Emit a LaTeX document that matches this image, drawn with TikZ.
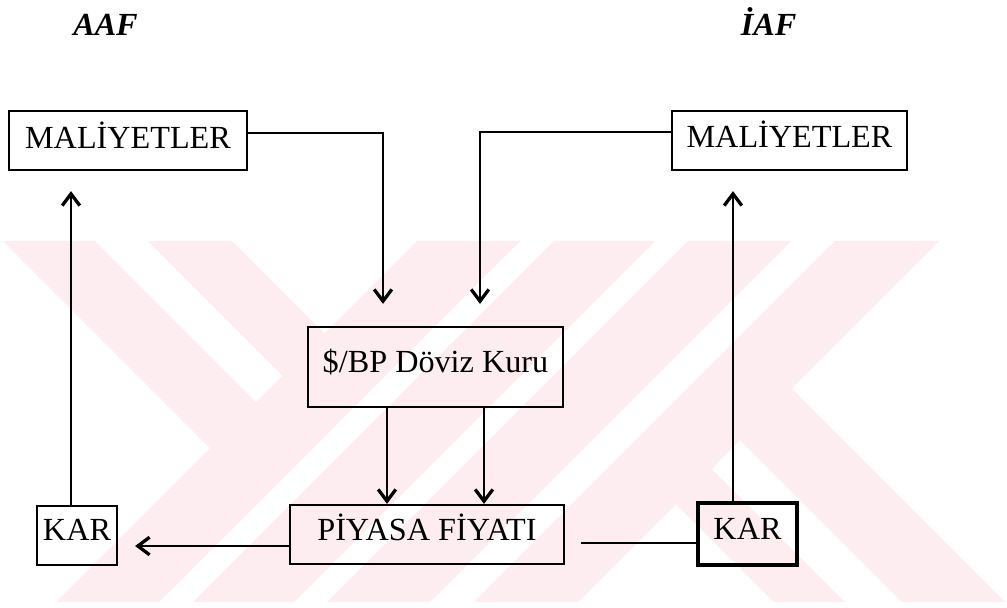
\documentclass[tikz,border=0pt]{standalone}
\usepackage{fontspec}
\setmainfont{Liberation Serif}
\usetikzlibrary{positioning}
\usetikzlibrary{calc}
\usetikzlibrary{arrows.meta}
\definecolor{wmpink}{RGB}{253,236,240}

\begin{document}
\begin{tikzpicture}[
    x=0.03cm, y=-0.03cm,
    box/.style={draw, line width=1.9pt, inner sep=0pt, font=\fontsize{27.5}{30}\selectfont},
    head/.style={inner sep=0pt, anchor=base, font=\fontsize{27.5}{30}\selectfont\bfseries\itshape},
    link/.style={line width=2pt},
    arr/.style={link, -{Straight Barb[length=10pt,width=15pt,line width=2.8pt]}},
    wm/.style={fill=wmpink}
]
    \useasboundingbox (0,0) rectangle (1007,607);

    % Watermark (drawn first, behind everything)
    \fill[wm] (3,241) -- (95,241) -- (281.75,427.75) -- (235.75,473.75) -- cycle;
    \fill[wm] (148,241) -- (232,241) -- (350.25,359.25) -- (308.25,401.25) -- cycle;
    \foreach \a/\b in {417/520, 554/655, 688/791, 835/939}
        \fill[wm] (\a,241) -- (\b,241) -- (\b-361,602) -- (\a-361,602) -- cycle;
    \fill[wm] (650,478) -- (685.5,442.5) -- (845,602) -- (774,602) -- cycle;
    \fill[wm] (714,414) -- (765.5,362.5) -- (1005,602) -- (902,602) -- cycle;

    % Headings
    \node[head] (aaf) at (105.5,35) {AAF};
    \node[head] (iaf) at (768.5,35) {İAF};

    % Boxes
    \node[box, text height=1.11cm, text depth=0.66cm, minimum width=7.14cm] (mL) at (128,140.5) {MALİYETLER};
    \node[box, text height=1.08cm, text depth=0.69cm, minimum width=7.05cm] (mR) at (789.5,140.5) {MALİYETLER};
    \node[box, text height=1.35cm, text depth=1.05cm, minimum width=7.65cm] (dk) at (435.5,367) {\$/BP Döviz Kuru};
    \node[box, text height=1.05cm, text depth=0.72cm, minimum width=8.22cm] (pf) at (427,534.5) {PİYASA FİYATI};
    \node[box, text height=1.02cm, text depth=0.75cm, minimum width=2.4cm] (kL) at (77,535.5) {KAR};
    \node[box, line width=3.6pt, text height=1.08cm, text depth=0.78cm, minimum width=2.97cm] (kR) at (747.5,534) {KAR};

    % Costs into the exchange rate
    \draw[arr] ($(mL.east)+(0,-7.5)$) -| ($(dk.north)+(-52.5,-22)$);
    \draw[arr] ($(mR.west)+(0,-8.5)$) -| ($(dk.north)+(44.5,-22)$);

    % Exchange rate into market price
    \draw[arr] ($(dk.south)+(-48.5,0)$) coordinate (d1) -- (d1 |- pf.north);
    \draw[arr] ($(dk.south)+(48.5,0)$) coordinate (d2) -- (d2 |- pf.north);

    % Market price to profits
    \draw[arr, shorten >=0.51cm] ($(pf.west)+(0,11.5)$) coordinate (p1) -- (p1 -| kL.east);
    \draw[link, shorten >=0.48cm] ($(kR.west)+(0,9)$) coordinate (p2) -- (p2 -| pf.east);

    % Profits back to costs
    \draw[arr, shorten >=0.6cm] ($(kL.north)+(-6,0)$) coordinate (k1) -- (k1 |- mL.south);
    \draw[arr, shorten >=0.6cm] ($(kR.north)+(-14.5,0)$) coordinate (k2) -- (k2 |- mR.south);
\end{tikzpicture}
\end{document}
